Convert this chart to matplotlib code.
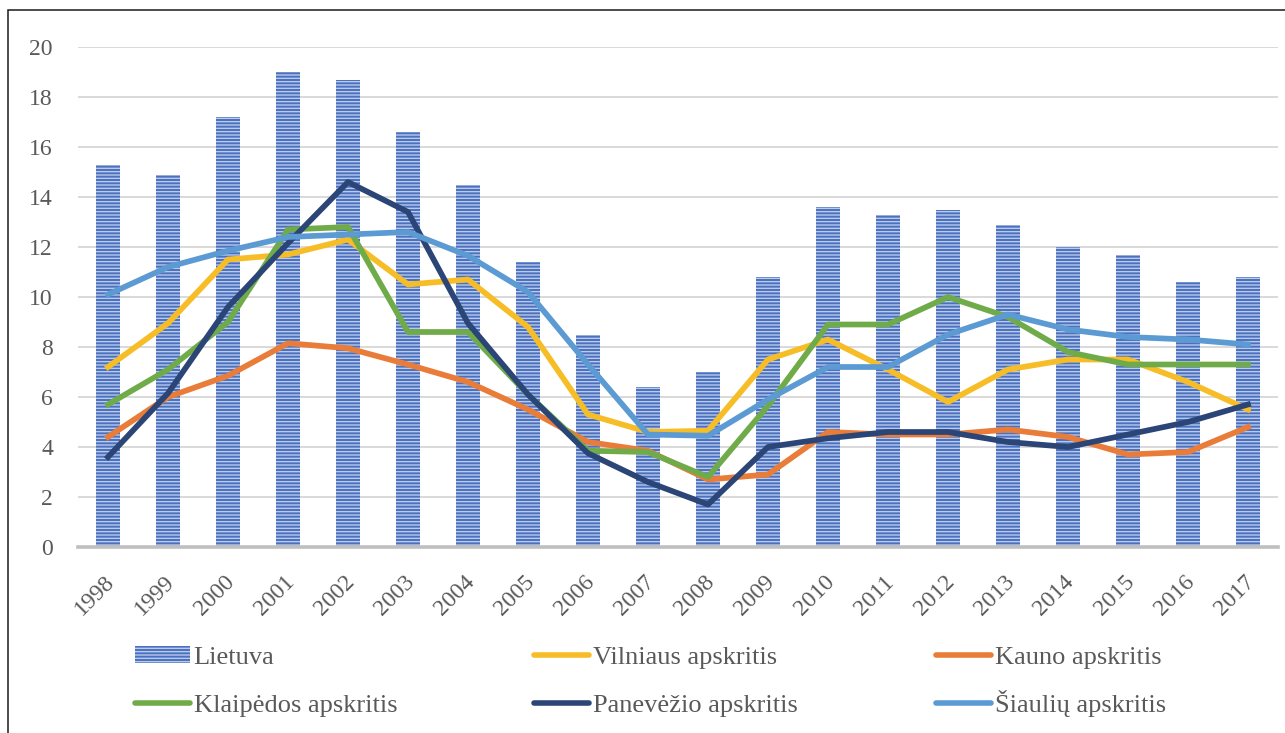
import matplotlib
matplotlib.use('Agg')
import matplotlib.pyplot as plt
from matplotlib.patches import Rectangle, Patch
from matplotlib.lines import Line2D
import matplotlib.transforms as mtransforms
import numpy as np

years = ['1998', '1999', '2000', '2001', '2002', '2003', '2004', '2005', '2006', '2007',
         '2008', '2009', '2010', '2011', '2012', '2013', '2014', '2015', '2016', '2017']
lietuva = [15.3, 14.9, 17.2, 19.0, 18.7, 16.6, 14.5, 11.4, 8.5, 6.4,
           7.0, 10.8, 13.6, 13.3, 13.5, 12.9, 12.0, 11.7, 10.6, 10.8]
vilniaus = [7.2, 8.95, 11.5, 11.7, 12.3, 10.5, 10.7, 8.8, 5.3, 4.6,
            4.65, 7.5, 8.3, 7.1, 5.8, 7.1, 7.5, 7.5, 6.6, 5.5]
kauno = [4.4, 6.0, 6.85, 8.15, 7.95, 7.3, 6.6, 5.5, 4.2, 3.85,
         2.7, 2.9, 4.6, 4.5, 4.5, 4.7, 4.4, 3.7, 3.8, 4.8]
klaipedos = [5.7, 7.1, 9.0, 12.7, 12.8, 8.6, 8.6, 6.1, 3.85, 3.8,
             2.8, 5.65, 8.9, 8.9, 10.0, 9.2, 7.8, 7.3, 7.3, 7.3]
panevezio = [3.6, 6.15, 9.6, 12.15, 14.6, 13.4, 8.95, 6.1, 3.75, 2.6,
             1.7, 4.0, 4.35, 4.6, 4.6, 4.2, 4.0, 4.5, 5.0, 5.7]
siauliu = [10.1, 11.2, 11.85, 12.4, 12.5, 12.6, 11.65, 10.2, 7.3, 4.5,
           4.45, 5.9, 7.2, 7.2, 8.5, 9.3, 8.7, 8.4, 8.3, 8.1]
labels = ['Lietuva', 'Vilniaus apskritis', 'Kauno apskritis',
          'Klaipėdos apskritis', 'Panevėžio apskritis', 'Šiaulių apskritis']
yticks = [0, 2, 4, 6, 8, 10, 12, 14, 16, 18, 20]

c_bar = '#4A70BF'
c_hatch = '#B9CAEA'
c_vil = '#F6BD27'
c_kau = '#E97C39'
c_kla = '#70AB4A'
c_pan = '#2B4577'
c_sia = '#5B9AD3'
txt = '#595959'

plt.rcParams['font.family'] = ['Liberation Serif', 'DejaVu Serif']
plt.rcParams['hatch.linewidth'] = 1.0

W, H = 1285, 733
fig = plt.figure(figsize=(W / 100, H / 100), dpi=100)
ax = fig.add_axes([78 / W, 186 / H, 1200 / W, 500 / H])
x = np.arange(len(years))

ax.bar(x, lietuva, width=0.4, color=c_bar, edgecolor=c_hatch, linewidth=0,
       hatch='-----', zorder=2)
lw = 4.1
for vals, c in [(vilniaus, c_vil), (kauno, c_kau), (klaipedos, c_kla),
                (panevezio, c_pan), (siauliu, c_sia)]:
    ax.plot(x, vals, color=c, lw=lw, zorder=3)

ax.set_xlim(-0.5, len(years) - 0.5)
ax.set_ylim(0, 20)
ax.set_yticks(yticks)
ax.set_yticklabels([str(v) for v in yticks])
ax.set_xticks(x)
ax.set_xticklabels(years, rotation=45, ha='right', va='center', rotation_mode='anchor')
ax.tick_params(axis='y', length=0, pad=18, labelsize=17, labelcolor=txt)
ax.tick_params(axis='x', length=0, pad=23, labelsize=17, labelcolor=txt)
shift = mtransforms.ScaledTranslation(3 / 100, 0, fig.dpi_scale_trans)
for lab in ax.get_xticklabels():
    lab.set_transform(lab.get_transform() + shift)
ax.yaxis.grid(True, color='#D9D9D9', lw=1.4)
ax.set_axisbelow(True)
for s in ['top', 'right', 'left']:
    ax.spines[s].set_visible(False)
ax.spines['bottom'].set_color('#BFBFBF')
ax.spines['bottom'].set_linewidth(2.6)
ax.spines['bottom'].set_zorder(4)

# legend: 2 rows x 3 columns, each entry placed on its own grid spot (baseline-aligned)
bar_handle = Patch(facecolor=c_bar, edgecolor=c_hatch, linewidth=0, hatch='-----')
def lh(c):
    return Line2D([], [], color=c, lw=4, solid_capstyle='round')

handles = [bar_handle, lh(c_vil), lh(c_kau), lh(c_kla), lh(c_pan), lh(c_sia)]
col_x = [135, 534, 936]
row_bottom = [669, 717]
for i, (hd, lb) in enumerate(zip(handles, labels)):
    px = col_x[i % 3]
    py = row_bottom[i // 3]
    fig.legend(handles=[hd], labels=[lb], loc='lower left',
               bbox_to_anchor=(px / W, 1 - py / H), frameon=False,
               fontsize=19, labelcolor=txt, handlelength=2.1,
               handletextpad=0.12, borderpad=0, borderaxespad=0,
               handleheight=0.6)

fig.add_artist(Rectangle((8 / W, -0.05), 1.2, 1.05 - 10 / H, transform=fig.transFigure,
                         fill=False, edgecolor='#1a1a1a', lw=1.1, clip_on=False))

fig.savefig('out.png', dpi=100)
